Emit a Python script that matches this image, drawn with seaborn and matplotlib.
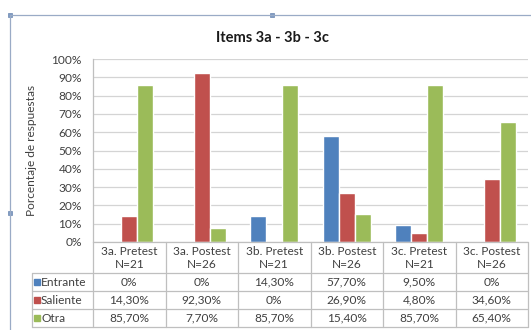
import matplotlib
matplotlib.use("Agg")
import matplotlib.pyplot as plt
from matplotlib.lines import Line2D
from matplotlib.patches import Rectangle
import pandas as pd
import seaborn as sns

# --- data -------------------------------------------------------------
grupos = ["3a. Pretest\nN=21", "3a. Postest\nN=26", "3b. Pretest\nN=21",
          "3b. Postest\nN=26", "3c. Pretest\nN=21", "3c. Postest\nN=26"]
series = ["Entrante", "Saliente", "Otra"]
entrante = [0.0, 0.0, 14.3, 57.7, 9.5, 0.0]
saliente = [14.3, 92.3, 0.0, 26.9, 4.8, 34.6]
otra = [85.7, 7.7, 85.7, 15.4, 85.7, 65.4]
colores = ["#4F81BD", "#C0504D", "#9BBB59"]
titulo = "Items 3a - 3b - 3c"
etiqueta_y = "Porcentaje de respuestas"

valores = {"Entrante": entrante, "Saliente": saliente, "Otra": otra}
df = pd.DataFrame([
    {"grupo": g, "serie": s, "valor": valores[s][i]}
    for s in series for i, g in enumerate(grupos)
])


def pct(v):
    return "0%" if v == 0 else f"{v:.2f}%".replace(".", ",")


# --- figure -----------------------------------------------------------
sns.set_style("white")
plt.rcParams["font.family"] = ["Lato", "DejaVu Sans"]
W, H = 531, 330
fig = plt.figure(figsize=(W / 100, H / 100), dpi=100)
fig.patch.set_facecolor("white")

txt = "#404040"
grid = "#d4d4d4"
linea = "#bfbfbf"
fs = 8.6

# plot area in pixel geometry
L, R, T, B = 93, 528, 59, 242
ax = fig.add_axes([L / W, (H - B) / H, (R - L) / W, (B - T) / H])
sns.barplot(data=df, x="grupo", y="valor", hue="serie", hue_order=series,
            palette=colores, width=0.66, gap=0, errorbar=None, saturation=1,
            legend=False, ax=ax, zorder=3)
ax.set_xlim(-0.5, len(grupos) - 0.5)
ax.set_ylim(0, 100)
ax.set_yticks(range(0, 101, 10))
ax.set_yticklabels([f"{v}%" for v in range(0, 101, 10)], color=txt, fontsize=fs)
ax.tick_params(axis="y", length=0, pad=8)
ax.set_xticks([])
ax.set_xlabel("")
ax.yaxis.grid(True, color=grid, linewidth=0.9, zorder=0)
ax.set_axisbelow(True)
for s in ["top", "right", "bottom"]:
    ax.spines[s].set_visible(False)
ax.spines["left"].set_color(linea)
ax.spines["left"].set_linewidth(0.9)
ax.set_ylabel(etiqueta_y, color=txt, fontsize=8.6)
ax.yaxis.set_label_coords((37 - L) / (R - L), 0.5)

# --- data table under the bars ----------------------------------------
TB = 327
tax = fig.add_axes([L / W, (H - TB) / H, (R - L) / W, (TB - B) / H])
tax.set_xlim(-0.5, len(grupos) - 0.5)
tax.set_ylim(TB - B, 0)
tax.axis("off")
unit = (R - L) / len(grupos)
x_leg = -0.5 - (L - 32) / unit
row_y = [0, 31, 49, 67, 85]
for k, y in enumerate(row_y):
    x0 = -0.5 if k == 0 else x_leg
    tax.add_line(Line2D([x0, len(grupos) - 0.5], [y, y], color=linea,
                        lw=0.9, clip_on=False))
for i in range(len(grupos) + 1):
    tax.add_line(Line2D([i - 0.5, i - 0.5], [0, row_y[-1]], color=linea,
                        lw=0.9, clip_on=False))
tax.add_line(Line2D([x_leg, x_leg], [row_y[1], row_y[-1]], color=linea,
                    lw=0.9, clip_on=False))

for i, g in enumerate(grupos):
    tax.text(i, (row_y[0] + row_y[1]) / 2 + 0.5, g, ha="center", va="center",
             color=txt, fontsize=fs, linespacing=1.3)
for r, s in enumerate(series):
    yc = (row_y[r + 1] + row_y[r + 2]) / 2
    sq = 6 / unit
    tax.add_patch(Rectangle((x_leg + 2 / unit, yc - 3), sq, 6,
                            color=colores[r], clip_on=False))
    tax.text(x_leg + 9 / unit, yc, s, ha="left", va="center",
             color=txt, fontsize=fs)
    for i, v in enumerate(valores[s]):
        tax.text(i, yc, pct(v), ha="center", va="center", color=txt,
                 fontsize=fs)

# --- title and chart frame --------------------------------------------
fig.text(272 / W, 1 - 38 / H, titulo, ha="center", va="center",
         fontsize=10.5, fontweight="bold", color="#1a1a1a")

marco = "#9aabc6"
fig.add_artist(Line2D([10 / W, 1], [1 - 15 / H, 1 - 15 / H], color=marco,
                      lw=0.9, transform=fig.transFigure))
fig.add_artist(Line2D([10 / W, 10 / W], [1 - 15 / H, 0], color=marco,
                      lw=0.9, transform=fig.transFigure))
for px, py in [(10, 15), (272, 15), (10, 213)]:
    fig.add_artist(Rectangle(((px - 2) / W, 1 - (py + 2) / H), 4 / W, 4 / H,
                             facecolor="#7f9cc4", edgecolor="#6a86b0",
                             lw=0.5, transform=fig.transFigure))

fig.savefig("out.png", dpi=100)
